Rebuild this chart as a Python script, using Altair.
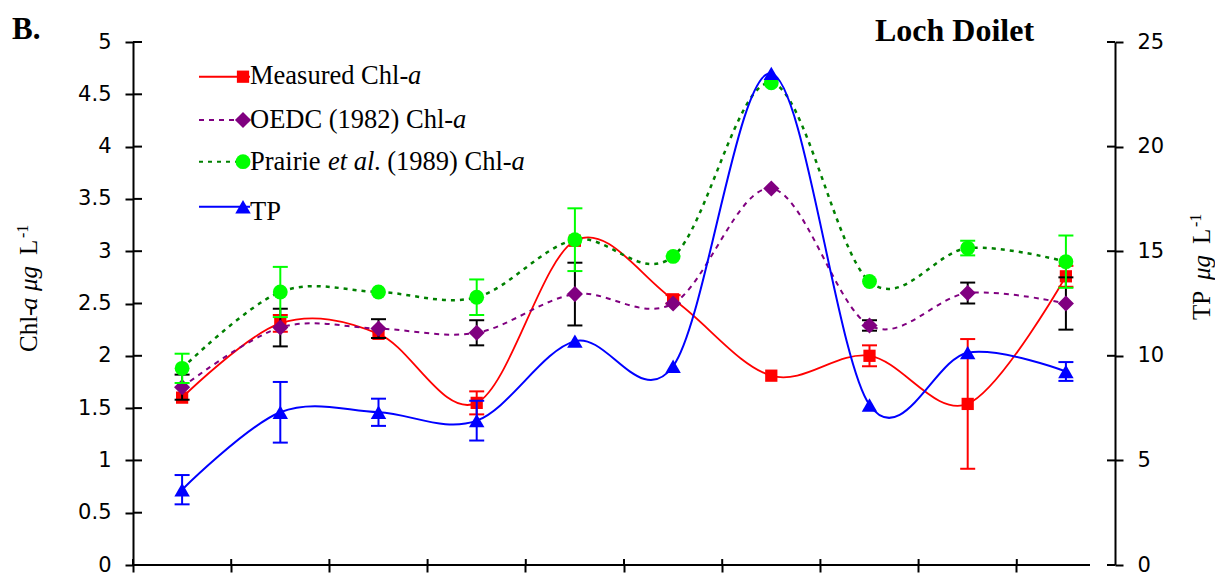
import altair as alt
import pandas as pd

# Sampling occasions (unlabelled on the axis)
categories = ["1", "2", "3", "4", "5", "6", "7", "8", "9", "10"]

measured_chl = [1.60, 2.31, 2.21, 1.55, 3.10, 2.54, 1.81, 2.00, 1.54, 2.76]
measured_err = [None, 0.08, None, 0.11, None, 0.04, None, 0.10, 0.62, 0.10]

oedc_chl = [1.70, 2.27, 2.26, 2.22, 2.59, 2.50, 3.60, 2.29, 2.60, 2.50]
oedc_err = [0.12, 0.18, 0.09, 0.12, 0.30, None, None, 0.05, 0.10, 0.25]

prairie_chl = [1.88, 2.61, 2.61, 2.56, 3.11, 2.95, 4.61, 2.71, 3.03, 2.90]
prairie_err = [0.14, 0.24, None, 0.17, 0.30, None, None, None, 0.07, 0.25]

tp_values = [3.6, 7.3, 7.3, 6.9, 10.7, 9.5, 23.5, 7.65, 10.15, 9.25]
tp_err = [0.70, 1.45, 0.65, 0.95, None, None, None, None, None, 0.45]

chl_ticks = [0, 0.5, 1, 1.5, 2, 2.5, 3, 3.5, 4, 4.5, 5]
tp_ticks = [0, 5, 10, 15, 20, 25]

W, H = 982, 523
SERIF = "Liberation Serif"
SANS = "DejaVu Sans"

x_scale = alt.Scale(type="band", domain=categories, paddingInner=0, paddingOuter=0)
x_axis = alt.Axis(labels=False, title=None, domain=False, grid=False, ticks=True,
                  tickSize=7, tickWidth=2, tickColor="black", bandPosition=0)


def X(band=0.5):
    return alt.X("cat:N", scale=x_scale, axis=x_axis, bandPosition=band)


def y_axis(values, orient):
    return alt.Axis(values=values, orient=orient, format="~g", title=None, grid=False,
                    tickSize=8, tickWidth=2, tickColor="black",
                    domainWidth=2, domainColor="black",
                    labelFont=SANS, labelFontSize=21, labelColor="black",
                    labelPadding=14, labelFlush=False)


chl_scale = alt.Scale(domain=[0, 5], nice=False, zero=True)
tp_scale = alt.Scale(domain=[0, 25], nice=False, zero=True)
chl_axis = y_axis(chl_ticks, "left")
tp_axis = y_axis(tp_ticks, "right")


def series(values, errs, yscale, yaxis, marker_color, shape, size,
           line_color, bar_color, dash=None, line_width=2):
    df = pd.DataFrame({"cat": categories, "value": values,
                       "err": [float("nan") if e is None else e for e in errs]})
    df["lo"] = df["value"] - df["err"]
    df["hi"] = df["value"] + df["err"]
    eb = df.dropna(subset=["err"])
    line_kw = dict(interpolate="cardinal", color=line_color, strokeWidth=line_width)
    if dash:
        line_kw["strokeDash"] = dash
    line = alt.Chart(df).mark_line(**line_kw).encode(
        x=X(), y=alt.Y("value:Q", scale=yscale, axis=yaxis))
    rule = alt.Chart(eb).mark_rule(color=bar_color, strokeWidth=2).encode(
        x=X(), y=alt.Y("lo:Q", scale=yscale, axis=yaxis), y2="hi:Q")
    cap_lo = alt.Chart(eb).mark_tick(color=bar_color, size=15, thickness=2, opacity=1).encode(
        x=X(), y=alt.Y("lo:Q", scale=yscale, axis=yaxis))
    cap_hi = alt.Chart(eb).mark_tick(color=bar_color, size=15, thickness=2, opacity=1).encode(
        x=X(), y=alt.Y("hi:Q", scale=yscale, axis=yaxis))
    pts = alt.Chart(df).mark_point(shape=shape, filled=True, size=size, color=marker_color,
                                   opacity=1, strokeWidth=0).encode(
        x=X(), y=alt.Y("value:Q", scale=yscale, axis=yaxis))
    return [line, rule, cap_lo, cap_hi, pts]


one = pd.DataFrame({"k": [0]})


def text(s, x, y, size, style="normal", weight="normal", angle=0, font=SERIF):
    return alt.Chart(one).mark_text(text=s, font=font, fontSize=size, fontStyle=style,
                                    fontWeight=weight, angle=angle, align="left",
                                    baseline="alphabetic", color="black").encode(
        x=alt.value(x), y=alt.value(y))


# Inner halves of the crossing tick marks
left_inner = alt.Chart(pd.DataFrame({"v": chl_ticks})).mark_rule(
    color="black", strokeWidth=2).encode(
    y=alt.Y("v:Q", scale=chl_scale, axis=chl_axis), x=alt.value(0), x2=alt.value(9))
right_inner = alt.Chart(pd.DataFrame({"v": tp_ticks})).mark_rule(
    color="black", strokeWidth=2).encode(
    y=alt.Y("v:Q", scale=tp_scale, axis=tp_axis), x=alt.value(W - 8), x2=alt.value(W))
bottom_inner = alt.Chart(pd.DataFrame({"cat": categories})).mark_rule(
    color="black", strokeWidth=2).encode(
    x=X(band=0), y=alt.value(H - 6), y2=alt.value(H))
x_line = alt.Chart(one).mark_rule(color="black", strokeWidth=2).encode(
    x=alt.value(0), x2=alt.value(957), y=alt.value(H))

# Legend
FS = 26.5
legend = []
rows = [
    ("#FF0000", "#FF0000", "square", 150, None, 34.7, 42.3,
     [("Measured Chl-", 117, "normal"), ("a", 275, "italic")]),
    ("#800080", "#800080", "diamond", 260, [5, 5], 78, 85.7,
     [("OEDC (1982) Chl-", 117, "normal"), ("a", 320, "italic")]),
    ("#008000", "#00FF00", "circle", 220, [4, 5], 119.7, 128,
     [("Prairie ", 117, "normal"), ("et al", 195, "italic"),
      (". (1989) Chl-", 241, "normal"), ("a", 378.5, "italic")]),
    ("#0000FF", "#0000FF", "triangle-up", 240, None, 164.7, 178,
     [("TP", 117, "normal")]),
]
for lc, mc, shape, size, dash, ly, ty, pieces in rows:
    kw = dict(color=lc, strokeWidth=2)
    if dash:
        kw["strokeDash"] = dash
    legend.append(alt.Chart(one).mark_rule(**kw).encode(
        x=alt.value(66), x2=alt.value(117), y=alt.value(ly)))
    legend.append(alt.Chart(one).mark_point(shape=shape, filled=True, size=size, color=mc,
                                            opacity=1, strokeWidth=0).encode(
        x=alt.value(110), y=alt.value(ly)))
    for s, tx, st in pieces:
        legend.append(text(s, tx, ty, FS, style=st))

# Titles and axis titles
titles = [
    text("Loch Doilet", 742, -1.3, 32, weight="bold"),
    text("B.", -121, -3, 31, weight="bold"),
    # left axis title, reading upwards
    text("Chl-", -96, 310, 25, angle=270),
    text("a", -96, 268, 25, style="italic", angle=270),
    text("\u03bcg", -96, 249, 25, style="italic", angle=270),
    text("L", -96, 213, 25, angle=270),
    text("-1", -105, 196, 16, angle=270),
    # right axis title
    text("TP", 1077, 278, 25, angle=270),
    text("\u03bcg", 1077, 238, 25, style="italic", angle=270),
    text("L", 1077, 202, 25, angle=270),
    text("-1", 1068, 185, 16, angle=270),
]

chl_group = alt.layer(
    *series(measured_chl, measured_err, chl_scale, chl_axis, "#FF0000", "square", 150,
            "#FF0000", "#FF0000", line_width=1.8),
    *series(oedc_chl, oedc_err, chl_scale, chl_axis, "#800080", "diamond", 260,
            "#800080", "black", dash=[5, 5]),
    *series(prairie_chl, prairie_err, chl_scale, chl_axis, "#00FF00", "circle", 220,
            "#008000", "#00FF00", dash=[4, 5], line_width=2.5),
    left_inner, bottom_inner, x_line, *legend, *titles,
)

tp_group = alt.layer(
    *series(tp_values, tp_err, tp_scale, tp_axis, "#0000FF", "triangle-up", 240,
            "#0000FF", "#0000FF"),
    right_inner,
)

chart = alt.layer(chl_group, tp_group).resolve_scale(y="independent").properties(
    width=W, height=H,
    autosize=alt.AutoSizeParams(type="none"),
    padding={"left": 133, "top": 42, "right": 100, "bottom": 8},
    background="white",
).configure_view(stroke=None)

chart.save("out.html", embed_options={"renderer": "svg", "actions": False})
